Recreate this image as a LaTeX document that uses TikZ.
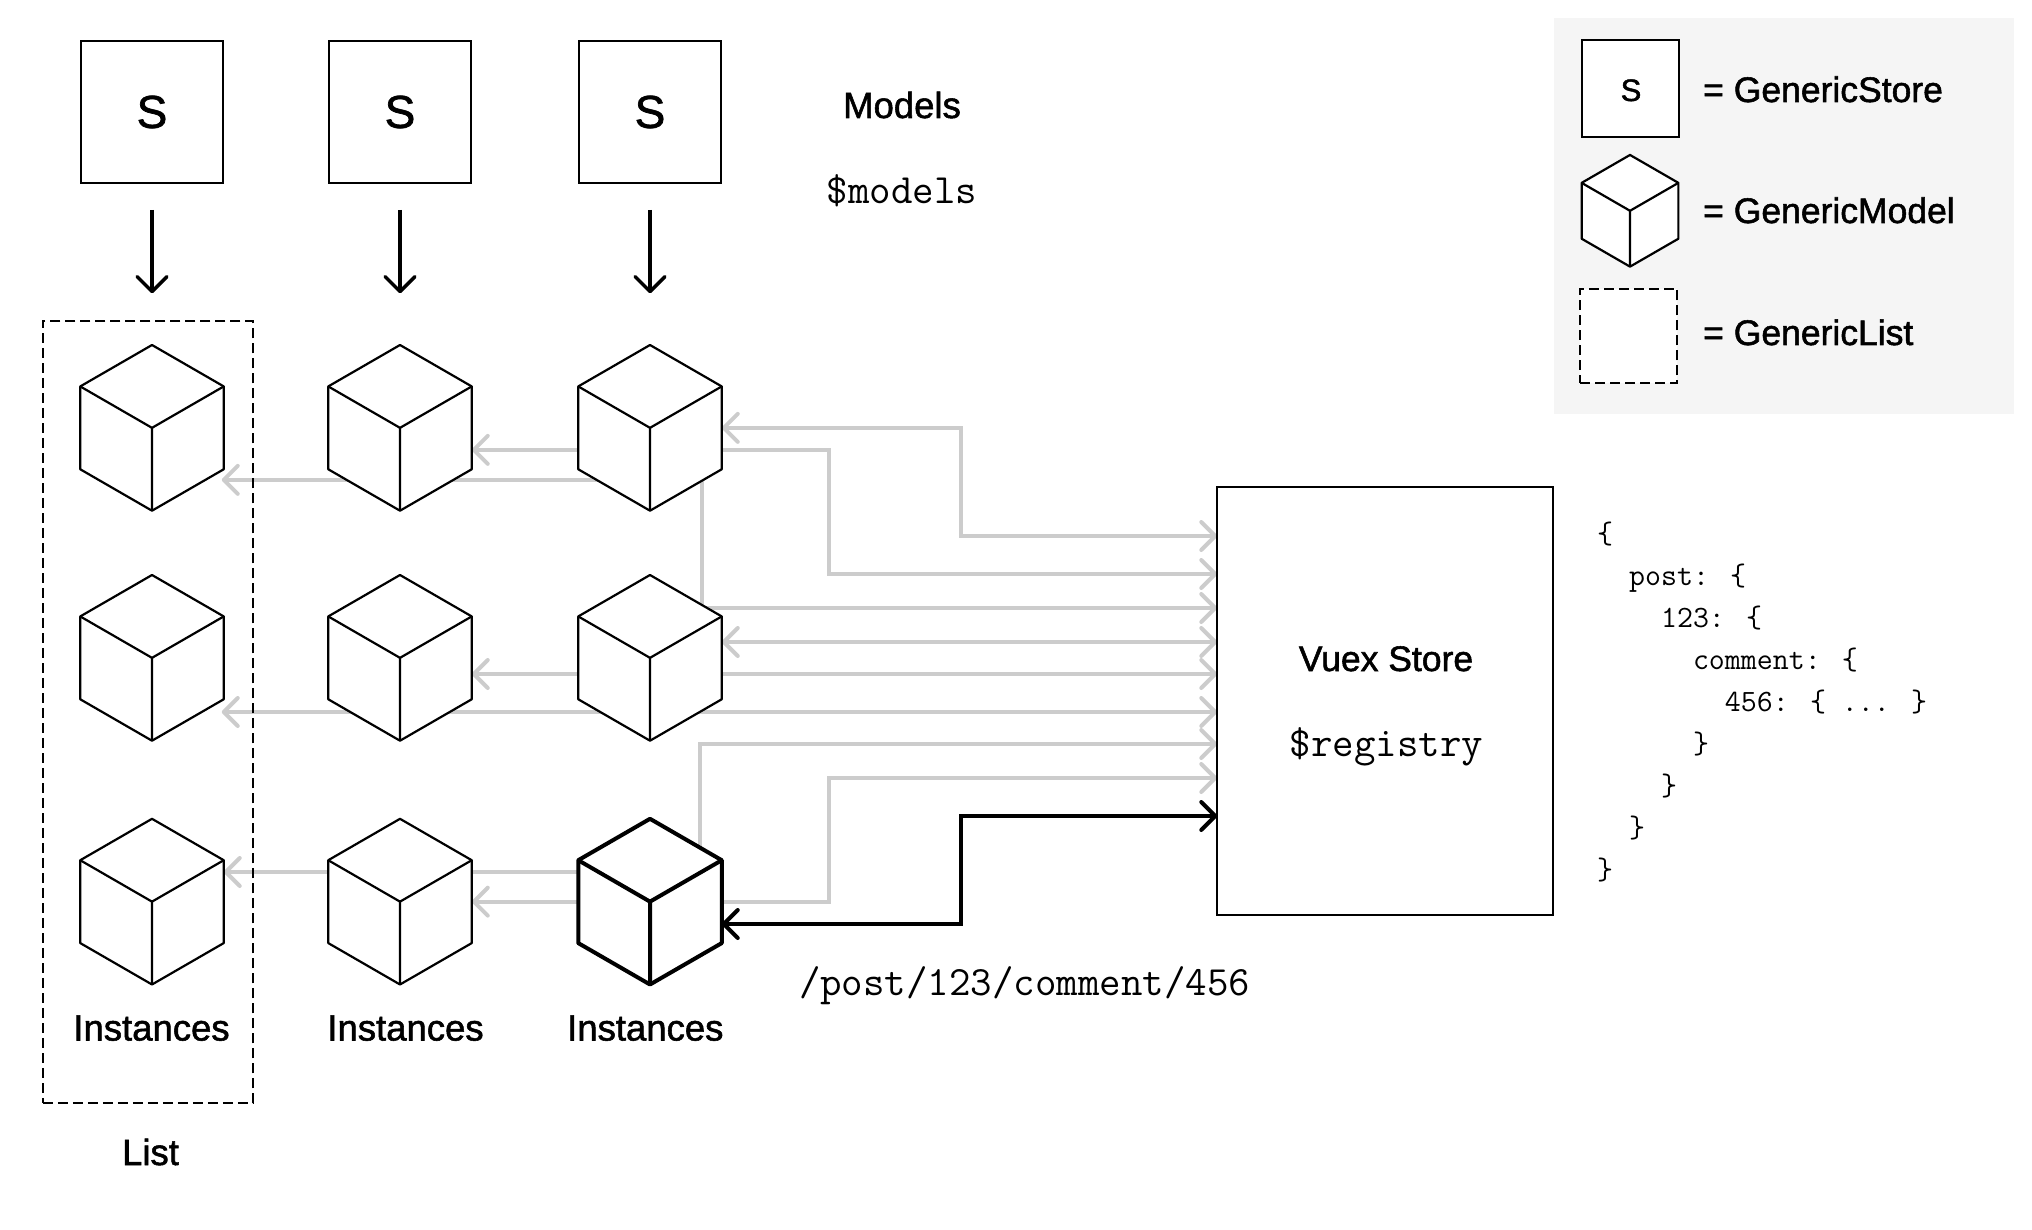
\documentclass[tikz,border=0pt]{standalone}
\usepackage{fontspec}
\setmainfont[FakeBold=1.5]{Liberation Sans}
\usetikzlibrary{arrows.meta}
\usetikzlibrary{shapes.geometric}
\usetikzlibrary{calc}
\pgfdeclarelayer{wires}
\pgfsetlayers{wires,main}
\definecolor{wiregray}{HTML}{CCCCCC}
\definecolor{legendgray}{HTML}{F5F5F5}

\newcommand{\Cube}[4][]{
\node[CubeStyle, #1] (#2) at (#3,#4) {};
\draw[CubeEdge, #1] (#2.corner 2) -- (#2.center) -- (#2.corner 6) (#2.center) -- (#2.corner 4);
}

\begin{document}
\begin{tikzpicture}[x = 1pt, y = -1pt]
\tikzstyle{CubeStyle}=[shape = regular polygon,
                       regular polygon sides = 6,
                       shape border rotate = -90,
                       minimum size = 165.7pt,
                       inner sep = 0pt, outer sep = 0pt,
                       line width = 2.2pt, line join = round,
                       fill = white, draw]
\tikzstyle{CubeEdge}=[line width = 2.2pt, line join = round]
\tikzstyle{BoxStyle}=[shape = rectangle, inner sep = 0pt, outer sep = 0pt,
                      line width = 2.2pt, fill = white, draw]
\tikzstyle{ListStyle}=[BoxStyle, dash pattern = on 10pt off 5pt]
\tikzstyle{WireStyle}=[draw = wiregray, line width = 4pt, <->,
                       >={Straight Barb[length = 14pt, width = 28pt, round]}]
\tikzstyle{PickStyle}=[draw = black, line width = 4pt, <->,
                       >={Straight Barb[length = 14pt, width = 28pt, round]}]
\tikzstyle{DownStyle}=[line width = 3.4pt, ->,
                       >={Straight Barb[length = 15pt, width = 30pt, round]}]
\tikzstyle{LabelStyle}=[anchor = base, inner sep = 0pt,
                        font = \fontsize{35.5}{36}\selectfont]
\tikzstyle{BigLabel}=[LabelStyle, font = \fontsize{36.5}{37}\selectfont]
\tikzstyle{MonoStyle}=[anchor = base, inner sep = 0pt,
                       font = \fontsize{41.7}{42}\selectfont\ttfamily]
\useasboundingbox (0,0) rectangle (2032,1230);

% legend
\node[fill = legendgray, inner sep = 0pt, minimum width = 459.7pt, minimum height = 396pt] (legend) at (1783.8,216) {};
\node[BoxStyle, minimum size = 97pt] (keystore) at (1630.8,88.7) {};
\node[LabelStyle, font = \fontsize{31}{32}\selectfont] (keys) at (1631,101) {S};
\Cube[minimum size = 111.7pt]{keycube}{1630}{210.8}
\node[ListStyle, minimum width = 97pt, minimum height = 94.6pt] (keylist) at (1628.8,336) {};
\node[LabelStyle, anchor = base west] (txtstore) at (1703,102) {= GenericStore};
\node[LabelStyle, anchor = base west] (txtmodel) at (1703,223) {= GenericModel};
\node[LabelStyle, anchor = base west] (txtlist) at (1703,345) {= GenericList};

% stores
\node[BoxStyle, minimum size = 142.6pt, font = \fontsize{46}{46}\selectfont] (s1) at (152,112) {S};
\node[BoxStyle, minimum size = 142.6pt, font = \fontsize{46}{46}\selectfont] (s2) at (400,112) {S};
\node[BoxStyle, minimum size = 142.6pt, font = \fontsize{46}{46}\selectfont] (s3) at (650,112) {S};
\node[BigLabel] (models) at (902,118) {Models};
\node[MonoStyle] (modelvar) at (902,204) {\$models};

% list
\node[ListStyle, fill = none, minimum width = 210.3pt, minimum height = 782pt] (list) at (147.9,712) {};

% cubes
\Cube{c11}{152}{427.85}
\Cube{c12}{400}{427.85}
\Cube{c13}{650}{427.85}
\Cube{c21}{152}{657.85}
\Cube{c22}{400}{657.85}
\Cube{c23}{650}{657.85}
\Cube{c31}{152}{901.65}
\Cube{c32}{400}{901.65}
\Cube[line width = 4pt]{c33}{650}{901.65}

\draw[DownStyle, shorten <= 26.7pt, shorten >= 51.7pt] (s1.south) -- (c11.north);
\draw[DownStyle, shorten <= 26.7pt, shorten >= 51.7pt] (s2.south) -- (c12.north);
\draw[DownStyle, shorten <= 26.7pt, shorten >= 51.7pt] (s3.south) -- (c13.north);

\node[BigLabel] (inst1) at (151.5,1040.5) {Instances};
\node[BigLabel] (inst2) at (405.5,1040.5) {Instances};
\node[BigLabel] (inst3) at (645.3,1040.5) {Instances};
\node[BigLabel] (listlabel) at (150.5,1165) {List};

% vuex store
\node[BoxStyle, minimum width = 335.5pt, minimum height = 428.2pt] (store) at (1385,700.8) {};
\node[LabelStyle] (storelabel) at (1386,671) {Vuex Store};
\node[MonoStyle] (storevar) at (1386.5,756.5) {\$registry};
\node[MonoStyle] (path) at (1024.5,995) {/post/123/comment/456};
\node[anchor = north west, inner sep = 0pt, align = left, font = \fontsize{31}{42}\selectfont\ttfamily] (tree) at (1597,522) {%
\{\\
~~post: \{\\
~~~~123: \{\\
~~~~~~comment: \{\\
~~~~~~~~456: \{ ... \}\\
~~~~~~\}\\
~~~~\}\\
~~\}\\
\}};

% wires
\foreach \n/\y in {a/536, b/574, c/608, d/642, e/674, f/712, g/744, h/778, k/816}
  \coordinate (p\n) at (store.west |- 0,\y);
\begin{pgfonlayer}{wires}
\draw[WireStyle] (c13.east) -- ++(239.3,0) |- (pa);
\draw[WireStyle] ($(c12.east)+(0,22)$) -- ++(357.6,0) |- (pb);
\draw[WireStyle] ($(c11.east)+(-2,52)$) -- ++(480.3,0) |- (pc);
\draw[WireStyle] ($(c23.east)+(0,-15.85)$) -- (pd);
\draw[WireStyle] ($(c22.east)+(0,16.15)$) -- (pe);
\draw[WireStyle] ($(c21.east)+(-2,54.15)$) -- (pf);
\draw[WireStyle] ($(c31.east)+(0,-29.65)$) -- ++(476.3,0) |- (pg);
\draw[WireStyle] (c32.east) -- ++(357.6,0) |- (ph);
\end{pgfonlayer}
\draw[PickStyle] ($(c33.east)+(0,22.35)$) -- ++(239.3,0) |- (pk);
\end{tikzpicture}
\end{document}
